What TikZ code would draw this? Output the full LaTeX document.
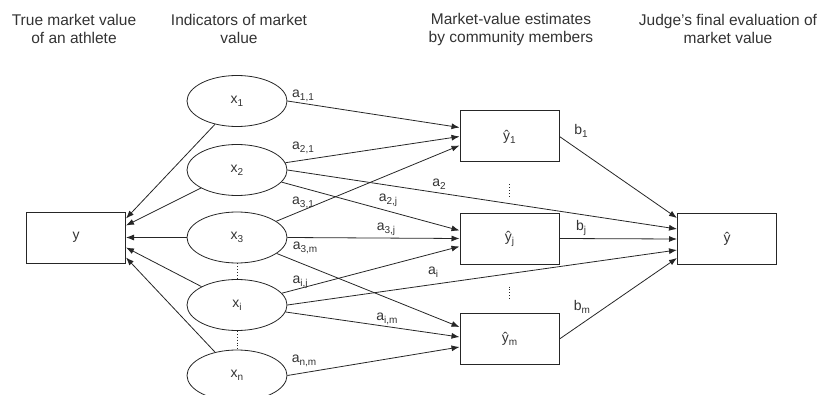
\documentclass[tikz,border=0pt]{standalone}
\usepackage{fontspec}
\setmainfont{Liberation Sans}
\usetikzlibrary{shapes.geometric, arrows.meta, calc}
\newcommand{\idx}[1]{\raisebox{-0.4ex}{\fontsize{10}{10}\selectfont #1}}

\begin{document}
\begin{tikzpicture}[x=1pt, y=1pt, line width=0.8pt, draw=black!85,
        every node/.style={text=black!80, font=\fontsize{14}{16}\selectfont},
        hdr/.style={align=center, font=\fontsize{15.5}{18}\selectfont},
        box/.style={draw, line width=1pt, minimum width=99pt, minimum height=51pt},
        ind/.style={draw, ellipse, minimum width=100pt, minimum height=51pt},
        arr/.style={-{Latex[length=8pt, width=6pt]}},
        dots/.style={dotted, line width=0.9pt}]
        \useasboundingbox (0,0) rectangle (824,394);

        \node[hdr] (h1) at (74,365) {True market value\\of an athlete};
        \node[hdr] (h2) at (239,365) {Indicators of market\\value};
        \node[hdr] (h3) at (511,365) {Market-value estimates\\by community members};
        \node[hdr] (h4) at (728,365) {Judge's final evaluation of\\market value};

        \node[box] (y) at (76,156.5) {y};
        \node[ind] (x1) at (237,293) {x\idx{1}};
        \node[ind] (x2) at (237,224) {x\idx{2}};
        \node[ind] (x3) at (237,156.5) {x\idx{3}};
        \node[ind] (xi) at (237,89) {x\idx{i}};
        \node[ind] (xn) at (237,18.5) {x\idx{n}};
        \node[box] (yh1) at (509.5,257.5) {ŷ\idx{1}};
        \node[box] (yhj) at (509.5,155.5) {ŷ\idx{j}};
        \node[box] (yhm) at (509.5,55) {ŷ\idx{m}};
        \node[box] (yh) at (727,155) {ŷ};
        \draw[dots] ($(yh1.south)+(0,-22)$) -- ($(yh1.south)+(0,-35)$);
        \draw[dots] ($(yhj.south)+(0,-22)$) -- ($(yhj.south)+(0,-35)$);

        \draw[arr] (x1) -- ($(y.east)+(0,19)$);
        \draw[arr] (x2) -- ($(y.east)+(0,12)$);
        \draw[arr] (x3) -- (y);
        \draw[arr] (xi) -- ($(y.east)+(0,-10)$);
        \draw[arr] (xn) -- ($(y.east)+(0,-20)$);
        \draw[dots] (x3) -- (xi);
        \draw[dots] (xi) -- (xn);

        \draw[arr] (x1.east) -- ($(yh1.west)+(0,9)$);
        \draw[arr] (x2) -- (yh1.west);
        \draw[arr] (x3) -- ($(yh1.west)+(0,-9)$);
        \draw[arr] (x2) -- ($(yhj.west)+(0,8)$);
        \draw[arr] (x3.east) -- (yhj.west);
        \draw[arr] (xi) -- ($(yhj.west)+(0,-8)$);
        \draw[arr] (x3) -- ($(yhm.west)+(0,12)$);
        \draw[arr] (xi) -- ($(yhm.west)+(0,2)$);
        \draw[arr] (xn.east) -- ($(yhm.west)+(0,-8)$);
        \draw[arr] (x2.east) -- ($(yh.west)+(0,10)$);
        \draw[arr] (xi.east) -- ($(yh.west)+(0,-11)$);
        \draw[arr] (yh1.east) -- ($(yh.west)+(0,21)$);
        \draw[arr] (yhj.east) -- (yh.west);
        \draw[arr] (yhm.east) -- ($(yh.west)+(0,-19)$);

        \node (l11) at (303,298.5) {a\idx{1,1}};
        \node (l21) at (303,246.5) {a\idx{2,1}};
        \node (l31) at (303,191) {a\idx{3,1}};
        \node (l2j) at (388,194) {a\idx{2,j}};
        \node (l2) at (439,210) {a\idx{2}};
        \node (l3j) at (386,165) {a\idx{3,j}};
        \node (l3m) at (305,146) {a\idx{3,m}};
        \node (lij) at (300,112) {a\idx{i,j}};
        \node (li) at (433,122) {a\idx{i}};
        \node (lim) at (387,75) {a\idx{i,m}};
        \node (lnm) at (304,33) {a\idx{n,m}};
        \node (b1) at (581,263) {b\idx{1}};
        \node (bj) at (581,166) {b\idx{j}};
        \node (bm) at (582,87) {b\idx{m}};
\end{tikzpicture}
\end{document}
